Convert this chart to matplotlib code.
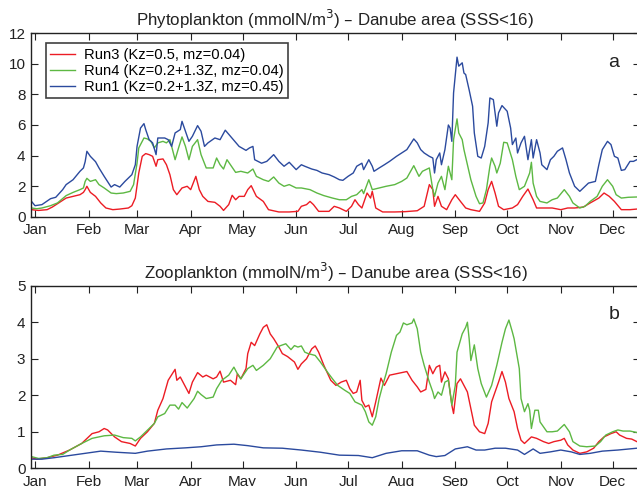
import matplotlib
matplotlib.use("Agg")
import matplotlib.pyplot as plt

plt.rcParams['font.family'] = ['Liberation Sans', 'DejaVu Sans']

# Month tick positions (day of year, Jan 1 = 1) and labels
month_days = [1, 32, 60, 91, 121, 152, 182, 213, 244, 274, 305, 335]
month_labels = ['Jan', 'Feb', 'Mar', 'Apr', 'May', 'Jun',
                'Jul', 'Aug', 'Sep', 'Oct', 'Nov', 'Dec']

run_labels = ['Run3 (Kz=0.5, mz=0.04)',
              'Run4 (Kz=0.2+1.3Z, mz=0.04)',
              'Run1 (Kz=0.2+1.3Z, mz=0.45)']
run_colors = ['#ec1c24', '#5db843', '#2b4a9e']

# ---------------- Phytoplankton (mmolN/m3) ----------------
phy_run3_day = [-1, 3, 8, 11, 14, 19, 23, 27, 29, 30, 31, 33, 36, 39, 42, 46, 50, 55, 57,
                59, 61, 63, 65, 67, 69, 71, 72, 75, 77, 79, 81, 83, 86, 89, 91, 94, 96, 98,
                101, 105, 108, 110, 113, 115, 117, 119, 122, 124, 126, 129, 133, 136, 142,
                148, 153, 155, 158, 160, 162, 165, 171, 174, 177, 181, 184, 186, 188, 190,
                193, 195, 196, 198, 202, 209, 215, 222, 226, 229, 231, 232, 234, 236, 239,
                242, 244, 247, 250, 253, 258, 261, 263, 265, 267, 269, 272, 277, 280, 283,
                286, 289, 291, 296, 300, 305, 309, 313, 318, 322, 327, 330, 333, 336, 340,
                345, 349]
phy_run3 = [0.46, 0.41, 0.46, 0.63, 0.85, 1.22, 1.33, 1.44, 1.59, 1.77, 1.99, 1.59, 1.33,
            0.90, 0.57, 0.46, 0.50, 0.57, 0.72, 1.22, 2.86, 3.95, 4.13, 4.06, 3.95, 3.30,
            3.73, 3.78, 3.40, 2.75, 1.77, 1.44, 1.88, 1.99, 1.77, 2.64, 1.77, 1.33, 1.00,
            0.94, 0.68, 0.41, 0.79, 1.40, 1.11, 1.33, 1.33, 1.77, 2.03, 1.33, 1.00, 0.46,
            0.31, 0.31, 0.35, 0.68, 0.79, 1.00, 0.79, 0.35, 0.35, 0.68, 0.57, 0.35, 0.68,
            1.11, 0.79, 0.57, 1.55, 1.22, 1.66, 0.57, 0.31, 0.31, 0.33, 0.39, 0.68, 2.10,
            1.77, 0.68, 1.33, 0.68, 0.46, 1.11, 1.44, 1.00, 0.57, 0.46, 0.35, 0.90, 1.77,
            2.31, 1.55, 0.68, 0.46, 0.57, 0.79, 1.33, 1.81, 1.11, 0.57, 0.57, 0.57, 0.46,
            0.57, 0.57, 0.63, 0.90, 1.22, 1.55, 1.33, 1.00, 0.46, 0.46, 0.50]

phy_run4_day = [-1, 2, 5, 10, 14, 19, 23, 27, 29, 30, 31, 33, 36, 38, 41, 45, 48, 52, 56,
                58, 60, 61, 64, 66, 68, 70, 72, 75, 77, 79, 82, 84, 86, 88, 90, 92, 95, 97,
                100, 104, 106, 108, 110, 112, 114, 117, 120, 124, 127, 129, 133, 136, 139,
                142, 145, 148, 152, 155, 160, 164, 168, 173, 177, 181, 184, 187, 190, 191,
                194, 196, 200, 204, 209, 213, 216, 220, 223, 225, 229, 231, 232, 234, 236,
                238, 240, 242, 243, 245, 246, 248, 249, 251, 253, 256, 258, 260, 262, 264,
                265, 267, 268, 270, 272, 274, 277, 279, 281, 284, 287, 288, 289, 291, 293,
                297, 300, 303, 307, 310, 312, 316, 319, 322, 326, 329, 332, 335, 337, 340,
                344, 349]
phy_run4 = [0.57, 0.52, 0.57, 0.72, 0.90, 1.38, 1.59, 1.77, 1.88, 2.31, 2.51, 2.31, 2.42,
            2.10, 1.88, 1.55, 1.51, 1.55, 1.66, 2.10, 3.50, 4.50, 5.15, 5.09, 4.93, 4.50,
            4.83, 4.93, 4.83, 5.04, 3.73, 4.50, 5.22, 4.60, 3.73, 4.60, 5.04, 4.06, 3.19,
            3.19, 3.84, 3.40, 3.12, 3.73, 3.40, 2.90, 2.97, 2.86, 3.12, 2.64, 2.42, 2.31,
            2.60, 2.20, 1.99, 2.10, 1.88, 1.88, 1.77, 1.55, 1.38, 1.22, 1.11, 1.11, 1.33,
            1.44, 1.77, 1.51, 2.42, 1.77, 1.88, 1.99, 2.10, 2.31, 2.53, 3.34, 2.64, 2.97,
            3.19, 1.77, 1.33, 2.20, 2.64, 1.77, 3.30, 2.42, 5.04, 6.40, 5.48, 5.04, 4.39,
            3.40, 2.42, 1.33, 0.85, 0.90, 1.77, 3.30, 3.84, 3.30, 2.86, 3.50, 4.87, 4.83,
            3.73, 2.64, 1.77, 1.99, 2.86, 3.56, 2.20, 1.33, 1.00, 0.90, 1.11, 1.22, 1.77,
            1.33, 0.90, 0.57, 0.68, 1.00, 1.33, 1.99, 2.42, 1.99, 1.44, 1.22, 1.27, 1.29]

phy_run1_day = [-1, 1, 5, 10, 13, 17, 19, 23, 27, 29, 30, 31, 33, 36, 38, 41, 45, 47, 50,
                53, 57, 59, 60, 62, 64, 65, 67, 69, 71, 72, 76, 78, 80, 82, 85, 86, 88, 90,
                92, 95, 97, 99, 101, 105, 108, 111, 114, 116, 119, 123, 125, 127, 128, 132,
                135, 139, 142, 145, 148, 152, 155, 157, 161, 164, 167, 171, 174, 177, 179,
                182, 185, 187, 190, 191, 194, 196, 197, 200, 203, 206, 210, 213, 216, 220,
                222, 224, 226, 229, 231, 232, 233, 235, 236, 238, 240, 241, 242, 243, 245,
                246, 248, 249, 250, 252, 254, 255, 257, 259, 261, 263, 264, 266, 268, 269,
                271, 274, 276, 277, 279, 280, 282, 284, 286, 288, 289, 291, 293, 294, 297,
                299, 301, 303, 306, 308, 310, 313, 316, 318, 321, 325, 327, 329, 332, 334,
                336, 338, 340, 342, 345, 347, 349]
phy_run1 = [1.00, 0.72, 0.79, 1.18, 1.27, 1.77, 2.10, 2.42, 2.97, 3.19, 3.60, 4.28, 3.95,
            3.60, 3.19, 2.64, 1.94, 2.10, 1.94, 2.31, 2.75, 3.40, 4.60, 5.80, 6.09, 5.70,
            5.04, 4.83, 4.06, 5.15, 5.15, 5.04, 4.60, 5.48, 5.70, 6.24, 5.59, 4.93, 5.26,
            5.96, 5.59, 4.60, 4.83, 5.15, 5.04, 5.66, 5.26, 5.00, 4.60, 4.34, 4.50, 4.60,
            3.73, 3.50, 3.62, 4.06, 3.62, 3.30, 3.56, 3.08, 3.40, 3.30, 3.12, 3.03, 2.86,
            2.75, 2.60, 2.42, 2.38, 2.64, 2.86, 3.30, 3.50, 3.08, 3.73, 3.30, 2.97, 3.19,
            3.40, 3.62, 3.95, 4.17, 4.39, 5.09, 4.83, 4.39, 4.17, 3.95, 3.84, 2.86, 3.73,
            4.17, 3.40, 4.39, 6.00, 5.80, 4.93, 8.10, 10.44, 9.85, 10.07, 9.40, 9.30, 8.30,
            7.23, 5.48, 3.95, 3.84, 4.60, 6.14, 7.77, 7.66, 5.92, 6.79, 7.27, 6.90, 5.80,
            4.72, 5.15, 4.17, 4.83, 5.26, 3.73, 5.04, 3.84, 5.04, 4.17, 3.40, 3.08, 3.73,
            3.95, 4.28, 4.50, 3.73, 2.86, 1.99, 1.66, 1.88, 2.20, 2.31, 3.40, 4.39, 4.93,
            4.72, 3.95, 3.84, 3.03, 3.08, 3.62, 3.62, 3.73]

# ---------------- Zooplankton (mmolN/m3) ----------------
zoo_run3_day = [-1, 2, 8, 14, 21, 28, 34, 38, 41, 43, 47, 51, 56, 59, 62, 66, 70, 72, 75,
                78, 82, 83, 85, 88, 90, 92, 95, 98, 100, 104, 106, 108, 110, 114, 117, 118,
                120, 123, 124, 126, 128, 131, 133, 135, 137, 139, 142, 144, 147, 151, 153,
                155, 158, 161, 163, 165, 168, 172, 175, 178, 181, 183, 185, 187, 189, 190,
                192, 194, 196, 198, 201, 203, 206, 210, 213, 216, 219, 222, 224, 227, 229,
                231, 233, 235, 236, 238, 240, 242, 243, 245, 247, 249, 251, 253, 255, 258,
                261, 263, 265, 268, 269, 271, 273, 275, 278, 280, 282, 284, 288, 291, 295,
                298, 301, 305, 307, 309, 312, 316, 320, 324, 327, 330, 334, 337, 339, 343,
                346, 349]
zoo_run3 = [0.29, 0.25, 0.29, 0.36, 0.50, 0.68, 0.95, 1.00, 1.09, 1.05, 0.86, 0.73, 0.68,
            0.61, 0.82, 1.00, 1.23, 1.59, 1.91, 2.41, 2.71, 2.41, 2.50, 2.23, 2.05, 2.36,
            2.62, 2.50, 2.55, 2.45, 2.50, 2.66, 2.36, 2.41, 2.29, 2.59, 2.45, 2.73, 3.14,
            3.45, 3.36, 3.68, 3.86, 3.93, 3.68, 3.55, 3.32, 3.14, 3.06, 2.91, 2.71, 2.86,
            3.00, 3.27, 3.35, 3.18, 2.82, 2.41, 2.27, 2.36, 2.41, 2.18, 2.05, 2.09, 2.41,
            1.86, 1.68, 1.73, 1.41, 1.82, 2.47, 2.27, 2.55, 2.59, 2.62, 2.65, 2.41, 2.23,
            2.09, 2.16, 2.82, 2.59, 2.77, 2.82, 2.36, 2.64, 2.45, 1.73, 1.50, 2.32, 2.45,
            2.27, 2.09, 1.64, 1.18, 1.00, 0.95, 1.23, 1.82, 2.23, 2.36, 2.65, 2.36, 1.91,
            1.55, 1.09, 0.77, 0.68, 0.86, 0.82, 0.73, 0.68, 0.73, 0.77, 0.82, 0.64, 0.50,
            0.41, 0.45, 0.55, 0.73, 0.86, 0.95, 1.00, 0.91, 0.82, 0.80, 0.73]

zoo_run4_day = [-1, 3, 8, 12, 17, 21, 28, 34, 41, 47, 52, 57, 59, 62, 67, 70, 72, 76, 79,
                82, 84, 86, 89, 93, 95, 97, 100, 104, 106, 109, 113, 116, 118, 120, 124, 127,
                129, 133, 137, 141, 143, 146, 149, 151, 153, 155, 157, 159, 163, 166, 170,
                173, 176, 180, 183, 186, 190, 192, 194, 196, 198, 200, 202, 204, 207, 210,
                212, 214, 216, 219, 220, 222, 224, 226, 229, 231, 232, 234, 236, 238, 240,
                242, 244, 245, 248, 250, 251, 252, 253, 255, 257, 259, 262, 265, 268, 271,
                273, 275, 277, 278, 281, 282, 284, 286, 287, 288, 290, 292, 293, 297, 300,
                303, 307, 310, 312, 316, 320, 325, 328, 331, 335, 338, 341, 345, 349]
zoo_run4 = [0.32, 0.27, 0.29, 0.36, 0.38, 0.50, 0.68, 0.82, 0.89, 0.91, 0.84, 0.82, 0.75,
            0.86, 1.09, 1.23, 1.41, 1.50, 1.73, 1.73, 1.62, 1.80, 1.65, 1.91, 2.11, 2.02,
            1.91, 1.95, 2.18, 2.41, 2.55, 2.77, 2.59, 2.45, 2.73, 2.82, 2.68, 2.82, 3.00,
            3.32, 3.36, 3.41, 3.25, 3.36, 3.32, 3.35, 3.18, 3.14, 3.09, 2.91, 2.64, 2.45,
            2.27, 2.14, 2.05, 1.82, 1.73, 1.55, 1.27, 1.18, 1.41, 1.91, 2.27, 2.59, 3.18,
            3.64, 3.73, 3.98, 3.93, 3.98, 4.09, 3.82, 3.18, 2.82, 2.36, 2.09, 1.91, 2.09,
            2.00, 2.36, 2.41, 1.73, 2.27, 3.18, 3.68, 3.86, 4.00, 3.55, 2.95, 3.38, 2.73,
            2.32, 1.95, 2.27, 2.82, 3.45, 3.82, 4.06, 3.73, 3.55, 2.73, 1.91, 1.55, 1.77,
            1.59, 1.09, 1.59, 1.59, 1.27, 1.00, 1.00, 1.02, 1.20, 1.00, 0.73, 0.61, 0.59,
            0.61, 0.73, 0.91, 1.00, 1.05, 1.02, 1.02, 0.98]

zoo_run1_day = [-1, 5, 12, 21, 30, 39, 48, 59, 66, 77, 88, 97, 106, 116, 124, 133, 144,
                155, 166, 177, 188, 196, 204, 213, 222, 229, 233, 238, 244, 251, 256, 261,
                267, 273, 280, 284, 289, 293, 299, 305, 311, 316, 322, 329, 338, 349]
zoo_run1 = [0.25, 0.25, 0.29, 0.35, 0.41, 0.47, 0.44, 0.41, 0.47, 0.53, 0.56, 0.59, 0.64,
            0.66, 0.62, 0.56, 0.55, 0.50, 0.44, 0.36, 0.35, 0.29, 0.41, 0.48, 0.48, 0.36,
            0.32, 0.35, 0.53, 0.59, 0.50, 0.50, 0.55, 0.55, 0.50, 0.38, 0.53, 0.41, 0.45,
            0.50, 0.45, 0.38, 0.41, 0.47, 0.50, 0.55]

W, H = 637, 486
fig = plt.figure(figsize=(W / 100, H / 100), dpi=100)

x_left, x_right = 31, 640          # axes extent in pixels (right edge runs past the figure)
day_left = 1 - 4 / 1.7296
day_right = 1 + 605 / 1.7296


def make_axes(top_px, bottom_px):
    return fig.add_axes([x_left / W, (H - bottom_px) / H,
                         (x_right - x_left) / W, (bottom_px - top_px) / H])


def style_axes(ax, ymax, yticks, title, letter, letter_y):
    ax.set_xlim(day_left, day_right)
    ax.set_ylim(0, ymax)
    ax.set_xticks(month_days)
    ax.set_xticklabels(month_labels)
    ax.set_yticks(yticks)
    ax.tick_params(direction='in', length=5, width=0.8, top=True, right=True,
                   labelsize=11, colors='#222222')
    ax.tick_params(axis='x', pad=4.5)
    ax.tick_params(axis='y', pad=4)
    for sp in ax.spines.values():
        sp.set_linewidth(1.0)
        sp.set_color('#222222')
    ax.set_title(title, fontsize=12.2, pad=5, color='#222222')
    ax.text(0.957, letter_y, letter, transform=ax.transAxes, fontsize=14,
            ha='center', va='center', color='#222222')


ax1 = make_axes(33.3, 216.7)
ax1.plot(phy_run3_day, phy_run3, color=run_colors[0], lw=1.0, label=run_labels[0])
ax1.plot(phy_run4_day, phy_run4, color=run_colors[1], lw=1.0, label=run_labels[1])
ax1.plot(phy_run1_day, phy_run1, color=run_colors[2], lw=1.0, label=run_labels[2])
style_axes(ax1, 12, range(0, 13, 2),
           'Phytoplankton (mmolN/m$^3$) – Danube area (SSS<16)', 'a', 0.84)
leg = ax1.legend(loc='upper left', bbox_to_anchor=(15 / 609, 1 - 10 / 183.4), fontsize=10.6,
                 frameon=True, fancybox=False, edgecolor='#111111',
                 handlelength=1.7, handletextpad=0.55, borderpad=0.3,
                 labelspacing=0.14, borderaxespad=0)
leg.get_frame().set_linewidth(1.2)

ax2 = make_axes(285.7, 468.3)
ax2.plot(zoo_run3_day, zoo_run3, color=run_colors[0], lw=1.0)
ax2.plot(zoo_run4_day, zoo_run4, color=run_colors[1], lw=1.0)
ax2.plot(zoo_run1_day, zoo_run1, color=run_colors[2], lw=1.0)
style_axes(ax2, 5, range(0, 6),
           'Zooplankton (mmolN/m$^3$) – Danube area (SSS<16)', 'b', 0.84)

fig.savefig('out.png', dpi=100)
